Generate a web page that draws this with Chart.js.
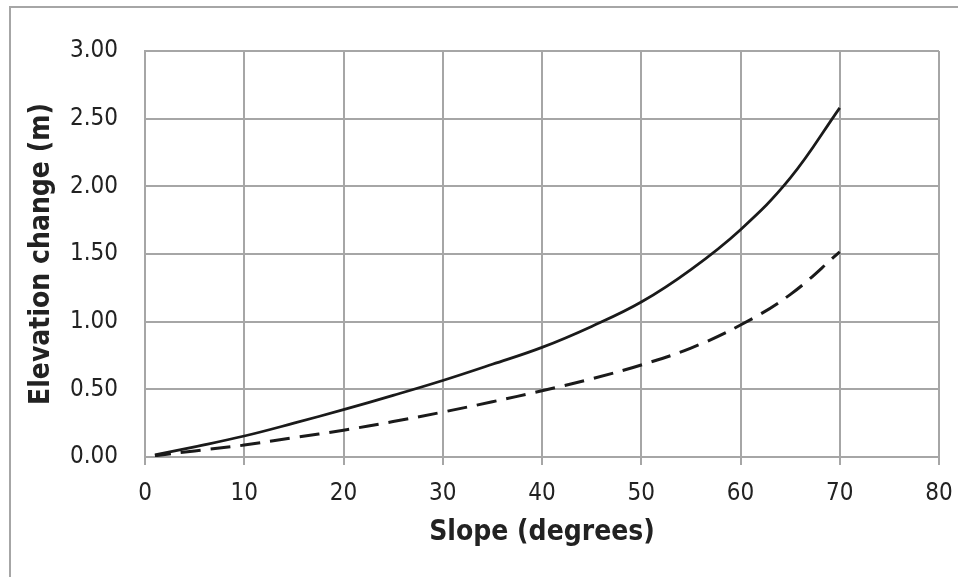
<!DOCTYPE html>
<html lang="en">
<head>
  <meta charset="UTF-8">
  <title>Elevation change vs slope</title>
  <script src="https://cdn.jsdelivr.net/npm/chart.js"></script>
  <style>
    html, body {
      margin: 0;
      padding: 0;
      background: #fff;
      overflow: hidden;
    }
    .frame {
      position: absolute;
      left: 9px;
      top: 6px;
      width: 1000px;
      height: 700px;
      border: 2px solid #a6a6a6;
      box-sizing: border-box;
    }
    #slopeChart {
      position: absolute;
      left: 0;
      top: 0;
    }
  </style>
</head>
<body>
  <div class="frame"></div>
  <canvas id="slopeChart" width="958" height="577"></canvas>
  <script>
    // slope in degrees and elevation change (m) for the two curves
    const slopes = [1, 5, 10, 15, 20, 25, 30, 35, 40, 45, 50, 55, 60, 65, 70];
    const solidValues = [0.015, 0.075, 0.155, 0.25, 0.35, 0.455, 0.565, 0.685, 0.81, 0.965, 1.145, 1.385, 1.68, 2.06, 2.58];
    const dashedValues = [0.009, 0.045, 0.088, 0.143, 0.198, 0.262, 0.332, 0.408, 0.49, 0.578, 0.68, 0.805, 0.975, 1.20, 1.515];

    const xTitle = 'Slope (degrees)';
    const yTitle = 'Elevation change (m)';

    const fontFamily = "'DejaVu Sans Condensed', 'DejaVu Sans', sans-serif";
    const gridColor = '#a6a6a6';
    const textColor = '#222';

    function toPoints(xs, ys) {
      return xs.map((x, i) => ({ x: x, y: ys[i] }));
    }

    new Chart(document.getElementById('slopeChart'), {
      type: 'line',
      data: {
        datasets: [
          {
            data: toPoints(slopes, solidValues),
            borderColor: '#1a1a1a',
            borderWidth: 2.75,
            pointRadius: 0,
            tension: 0.4,
            fill: false
          },
          {
            data: toPoints(slopes, dashedValues),
            borderColor: '#1a1a1a',
            borderWidth: 3,
            borderDash: [20, 10],
            borderDashOffset: 4,
            pointRadius: 0,
            tension: 0.4,
            fill: false
          }
        ]
      },
      options: {
        responsive: false,
        animation: false,
        layout: {
          padding: { left: 0, right: 19, top: 51, bottom: 0 }
        },
        plugins: {
          legend: { display: false },
          tooltip: { enabled: false }
        },
        scales: {
          x: {
            type: 'linear',
            min: 0,
            max: 80,
            ticks: {
              stepSize: 10,
              color: textColor,
              padding: 14,
              maxRotation: 0,
              font: { family: fontFamily, size: 24 }
            },
            grid: {
              color: gridColor,
              lineWidth: 2,
              drawTicks: true,
              tickLength: 8
            },
            border: { color: gridColor, width: 2 },
            title: {
              display: true,
              text: xTitle,
              color: textColor,
              padding: { top: 0, bottom: 27 },
              font: { family: fontFamily, size: 28, weight: 'bold' }
            },
            afterFit(scale) {
              scale.height = 120;
              // the end labels fit inside the layout padding already
              scale.paddingLeft = 0;
              scale.paddingRight = 0;
            }
          },
          y: {
            min: 0,
            max: 3,
            ticks: {
              stepSize: 0.5,
              color: textColor,
              padding: 27,
              font: { family: fontFamily, size: 24 },
              callback: (v) => v.toFixed(2)
            },
            grid: {
              color: gridColor,
              lineWidth: 2,
              drawTicks: false
            },
            border: { color: gridColor, width: 2 },
            title: {
              display: true,
              text: yTitle,
              color: textColor,
              padding: { top: 25, bottom: 0 },
              font: { family: fontFamily, size: 28, weight: 'bold' }
            },
            afterFit(scale) {
              scale.width = 145;
              scale.paddingTop = 0;
              scale.paddingBottom = 0;
            }
          }
        }
      }
    });
  </script>
</body>
</html>
